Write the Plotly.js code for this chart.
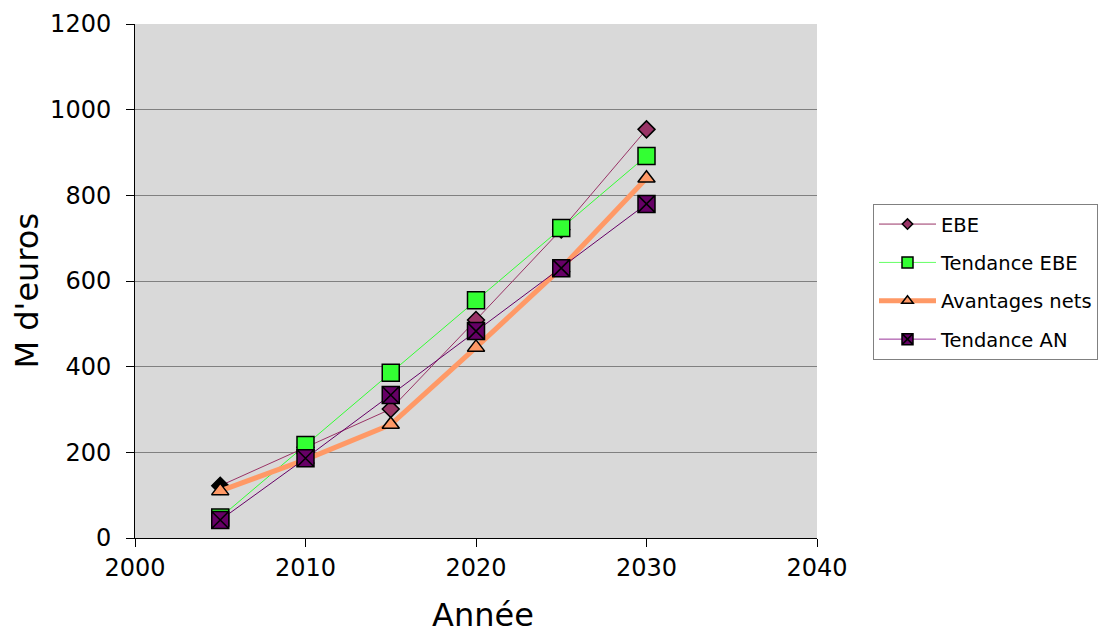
<!DOCTYPE html>
<html>
<head>
<meta charset="utf-8">
<script src="https://cdn.plot.ly/plotly-3.0.1.min.js"></script>
<style>
  html, body { margin: 0; padding: 0; background: #ffffff; }
  #chart { width: 1098px; height: 633px; }
</style>
</head>
<body>
<div id="chart"></div>
<script>
// Years on the horizontal axis
const annees = [2005, 2010, 2015, 2020, 2025, 2030];

// Series, in millions of euros
const ebe = [122, 212, 301, 509, 720, 954];
const tendanceEbe = [48, 217, 386, 555, 724, 892];
const avantagesNets = [110, 183, 265, 445, 630, 840];
const tendanceAn = [42, 186, 334, 483, 630, 780];

// Axis tick values
const xTicks = [2000, 2010, 2020, 2030, 2040];
const yTicks = [0, 200, 400, 600, 800, 1000, 1200];

const regular = '"DejaVu Sans", sans-serif';

// Styling per series: line, marker on the chart, smaller marker in the legend
const series = [
  { name: 'EBE', y: ebe, line: { color: '#993366', width: 1 }, legendLineColor: '#993366',
    symbol: 'diamond', size: 13, legendSize: 8,
    fill: ['#000000', '#993366', '#993366', '#993366', '#993366', '#993366'], legendFill: '#993366' },
  { name: 'Tendance EBE', y: tendanceEbe, line: { color: '#33ff33', width: 1 }, legendLineColor: '#66ff66',
    symbol: 'square', size: 17, legendSize: 11, fill: '#33ff33', legendFill: '#33ff33' },
  { name: 'Avantages nets', y: avantagesNets, line: { color: '#ff9966', width: 5 }, legendLineColor: '#ff9966',
    symbol: 'triangle-up', size: 15, legendSize: 10, fill: '#ff9966', legendFill: '#ff9966' },
  { name: 'Tendance AN', y: tendanceAn, line: { color: '#660066', width: 1 }, legendLineColor: '#993399',
    symbol: 'square-x', size: 17, legendSize: 11, fill: '#660066', legendFill: '#660066' }
];

const traces = [];
series.forEach(function (s) {
  traces.push({
    name: s.name, x: annees, y: s.y, mode: 'lines+markers', showlegend: false,
    line: s.line,
    marker: { symbol: s.symbol, size: s.size, color: s.fill, line: { color: '#000000', width: 1.5 } }
  });
});
// Legend entries (no data points of their own)
series.forEach(function (s, i) {
  traces.push({
    name: s.name, x: [null], y: [null], mode: 'lines+markers', legendgroup: 'g' + i,
    line: { color: s.legendLineColor, width: s.line.width },
    marker: { symbol: s.symbol, size: s.legendSize, color: s.legendFill, line: { color: '#000000', width: 1.5 } }
  });
});

const layout = {
  width: 1098,
  height: 633,
  margin: { l: 135, r: 281, t: 24, b: 95 },
  paper_bgcolor: '#ffffff',
  plot_bgcolor: '#d9d9d9',
  showlegend: true,
  legend: {
    xref: 'container', x: 873 / 1098, xanchor: 'left',
    y: 0.65, yanchor: 'top',
    bgcolor: '#ffffff', bordercolor: '#808080', borderwidth: 1,
    font: { family: regular, size: 19.5, color: '#000000' },
    traceorder: 'grouped', tracegroupgap: 10, itemwidth: 57
  },
  xaxis: {
    range: [2000, 2040], tickvals: xTicks, ticktext: xTicks.map(String),
    showgrid: false, zeroline: false, automargin: false,
    showline: true, linecolor: '#000000', linewidth: 1,
    ticks: 'outside', ticklen: 8, tickcolor: '#000000',
    tickfont: { family: regular, size: 24, color: '#000000' }
  },
  yaxis: {
    range: [0, 1200], tickvals: yTicks, ticktext: yTicks.map(String),
    showgrid: true, gridcolor: '#808080', gridwidth: 1, zeroline: false, automargin: false,
    showline: true, linecolor: '#000000', linewidth: 1,
    ticks: 'outside', ticklen: 8, tickcolor: '#000000', ticklabelstandoff: 10,
    tickfont: { family: regular, size: 24, color: '#000000' }
  },
  // Axis titles, placed in the margins
  annotations: [
    { text: 'Année', xref: 'paper', yref: 'paper', x: 0.51, y: -0.149,
      xanchor: 'center', yanchor: 'middle', showarrow: false,
      font: { family: regular, size: 32, color: '#000000' } },
    { text: "M d'euros", xref: 'paper', yref: 'paper', x: -0.158, y: 0.482,
      xanchor: 'center', yanchor: 'middle', textangle: -90, showarrow: false,
      font: { family: regular, size: 32, color: '#000000' } }
  ]
};

Plotly.newPlot('chart', traces, layout, { displayModeBar: false, staticPlot: true });
</script>
</body>
</html>
